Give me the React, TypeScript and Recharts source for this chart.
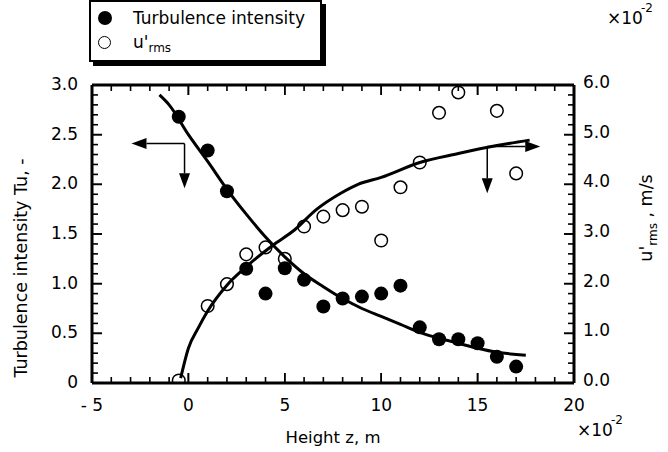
import React from 'react';
import { ComposedChart, Line, Scatter, XAxis, YAxis, ReferenceLine } from 'recharts';

const font = '"DejaVu Sans", sans-serif';

// measured turbulence intensity (filled dots), height in 1e-2 m
const tuHeight = [-0.5, 1, 2, 3, 4, 5, 6, 7, 8, 9, 10, 11, 12, 13, 14, 15, 16, 17];
const tuValue = [2.68, 2.34, 1.93, 1.15, 0.9, 1.155, 1.04, 0.77, 0.85, 0.87, 0.9, 0.98, 0.56, 0.44, 0.44, 0.4, 0.265, 0.165];

// measured u'rms (open dots), 1e-2 m/s
const urmsHeight = [-0.5, 1, 2, 3, 4, 5, 6, 7, 8, 9, 10, 11, 12, 13, 14, 16, 17];
const urmsValue = [0.05, 1.55, 1.99, 2.59, 2.73, 2.5, 3.15, 3.35, 3.48, 3.55, 2.87, 3.94, 4.44, 5.44, 5.85, 5.48, 4.22];

// fitted curves
const tuFitHeight = [-1.5, -1, 0, 1, 2, 3, 4, 5, 6, 7, 8, 9, 10, 11, 12, 13, 14, 15, 16, 17.5];
const tuFitValue = [2.9, 2.8, 2.5, 2.23, 1.95, 1.7, 1.47, 1.27, 1.1, 0.97, 0.85, 0.75, 0.67, 0.59, 0.51, 0.45, 0.4, 0.35, 0.31, 0.28];
const urmsFitHeight = [-0.4, 0, 0.5, 1, 2, 3, 4.4, 5.5, 6.6, 7.9, 8.8, 10, 12, 14, 16, 17.7];
const urmsFitValue = [0.1, 0.7, 1.1, 1.45, 1.97, 2.34, 2.78, 3.08, 3.48, 3.82, 4.0, 4.14, 4.44, 4.62, 4.78, 4.89];

// tick labels
const xMajor = [-5, 0, 5, 10, 15, 20];
const xMajorLabels = ['- 5', '0', '5', '10', '15', '20'];
const leftMajor = [0, 0.5, 1, 1.5, 2, 2.5, 3];
const leftLabels = ['0', '0.5', '1.0', '1.5', '2.0', '2.5', '3.0'];
const rightMajor = [0, 1, 2, 3, 4, 5, 6];
const rightLabels = ['0.0', '1.0', '2.0', '3.0', '4.0', '5.0', '6.0'];

// minor tick positions
const xMinor = Array.from({ length: 24 }, (_, i) => i - 4);
const leftMinor = Array.from({ length: 29 }, (_, i) => (i + 1) / 10);
const rightMinor = Array.from({ length: 29 }, (_, i) => (i + 1) / 5);

// arrow annotations in data units
const arrows = [
  { axis: 'left', from: { x: -0.2, y: 2.41 }, to: { x: -2.95, y: 2.41 } },
  { axis: 'left', from: { x: -0.2, y: 2.41 }, to: { x: -0.2, y: 1.96 } },
  { axis: 'right', from: { x: 15.5, y: 4.76 }, to: { x: 18.25, y: 4.76 } },
  { axis: 'right', from: { x: 15.5, y: 4.76 }, to: { x: 15.5, y: 3.82 } },
];

const zip = (zs: number[], vs: number[]) => zs.map((z, i) => ({ z, v: vs[i] }));
const tuPoints = zip(tuHeight, tuValue);
const urmsPoints = zip(urmsHeight, urmsValue);
const tuFit = zip(tuFitHeight, tuFitValue);
const urmsFit = zip(urmsFitHeight, urmsFitValue);

const findMajor = (list: number[], v: number) => list.findIndex((m) => Math.abs(m - v) < 1e-6);
const isMajor = (list: number[], v: number) => findMajor(list, v) >= 0;

// inward tick marks, drawn from a reference line's end points
const TickMark = (props: any) => {
  const { x1, y1, x2, y2, side, len } = props;
  let d = '';
  if (side === 'x') {
    const top = Math.min(y1, y2);
    const bottom = Math.max(y1, y2);
    d = `M${x1},${bottom}V${bottom - len}M${x1},${top}V${top + len}`;
  } else if (side === 'left') {
    const x = Math.min(x1, x2);
    d = `M${x},${y1}H${x + len}`;
  } else {
    const x = Math.max(x1, x2);
    d = `M${x},${y1}H${x - len}`;
  }
  return <path d={d} stroke="#000" strokeWidth={1.6} fill="none" />;
};

const BottomLabel = (p: any) => {
  const i = findMajor(xMajor, Number(p.payload.value));
  if (i < 0) return <g />;
  return (
    <text x={p.x} y={p.y + 28} textAnchor="middle" fontSize={17} fontFamily={font} fill="#000">
      {xMajorLabels[i]}
    </text>
  );
};

const LeftLabel = (p: any) => {
  const i = findMajor(leftMajor, Number(p.payload.value));
  if (i < 0) return <g />;
  return (
    <text x={p.x - 14} y={p.y + 5} textAnchor="end" fontSize={17} fontFamily={font} fill="#000">
      {leftLabels[i]}
    </text>
  );
};

const RightLabel = (p: any) => {
  const i = findMajor(rightMajor, Number(p.payload.value));
  if (i < 0) return <g />;
  return (
    <text x={p.x + 9} y={p.y + 3} textAnchor="start" fontSize={17} fontFamily={font} fill="#000">
      {rightLabels[i]}
    </text>
  );
};

const Arrow = (p: any) => {
  const { x1, y1, x2, y2 } = p;
  const a = Math.atan2(y2 - y1, x2 - x1);
  const len = 15;
  const w = 5.5;
  const bx = x2 - len * Math.cos(a);
  const by = y2 - len * Math.sin(a);
  const px = -Math.sin(a) * w;
  const py = Math.cos(a) * w;
  return (
    <g>
      <line x1={x1} y1={y1} x2={bx} y2={by} stroke="#000" strokeWidth={1.5} />
      <polygon points={`${x2},${y2} ${bx + px},${by + py} ${bx - px},${by - py}`} fill="#000" />
    </g>
  );
};

const BottomTitle = ({ viewBox }: any) => {
  const { x = 92, y = 383, width = 482 } = viewBox || {};
  return (
    <g fontFamily={font} fill="#000">
      <text x={x + width / 2} y={y + 60} textAnchor="middle" fontSize={16.5}>Height z, m</text>
      <text x={x + width + 3} y={y + 53} fontSize={17}>
        ×10<tspan dx={-2} dy={-12} fontSize={12}>-2</tspan>
      </text>
    </g>
  );
};

const TopTitle = ({ viewBox }: any) => {
  const { x = 92, y = 84, width = 482 } = viewBox || {};
  return (
    <text x={x + width + 33} y={y - 60} fontSize={17} fontFamily={font} fill="#000">
      ×10<tspan dx={-2} dy={-12} fontSize={12}>-2</tspan>
    </text>
  );
};

const LeftTitle = ({ viewBox }: any) => {
  const { x = 0, y = 85 } = viewBox || {};
  return (
    <text transform={`translate(${x + 27},${y + 183}) rotate(-90)`} textAnchor="middle" fontSize={17.5} fontFamily={font} fill="#000">
      Turbulence intensity Tu, -
    </text>
  );
};

const RightTitle = ({ viewBox }: any) => {
  const { x = 574, y = 85 } = viewBox || {};
  return (
    <text transform={`translate(${x + 78},${y + 133}) rotate(-90)`} textAnchor="middle" fontSize={17.5} fontFamily={font} fill="#000">
      u'<tspan dy={5} fontSize={12}>rms</tspan>
      <tspan dy={-5}> ,  m/s</tspan>
    </text>
  );
};

const axisLine = { stroke: '#000', strokeWidth: 3 };
const xTicks = [...xMajor];

export default function App() {
  return (
    <div style={{ position: 'absolute', left: 0, top: 0, width: 668, height: 452, background: '#fff' }}>
      <ComposedChart width={668} height={452} margin={{ top: 84, right: 0, bottom: 0, left: 0 }}>
        <XAxis
          type="number"
          dataKey="z"
          domain={[-5, 20]}
          ticks={xTicks}
          interval={0}
          allowDataOverflow
          height={69}
          tickSize={0}
          tickMargin={0}
          tickLine={false}
          tick={BottomLabel}
          axisLine={axisLine}
          label={{ content: (p: any) => <BottomTitle viewBox={p.viewBox} /> }}
        />
        <XAxis
          xAxisId="top"
          orientation="top"
          type="number"
          dataKey="z"
          domain={[-5, 20]}
          ticks={xTicks}
          interval={0}
          allowDataOverflow
          height={1}
          tickSize={0}
          tickMargin={0}
          tickLine={false}
          tick={false}
          axisLine={axisLine}
          label={{ content: (p: any) => <TopTitle viewBox={p.viewBox} /> }}
        />
        <YAxis
          yAxisId="left"
          type="number"
          domain={[0, 3]}
          ticks={leftMajor}
          interval={0}
          allowDataOverflow
          width={92}
          tickSize={0}
          tickMargin={0}
          tickLine={false}
          tick={LeftLabel}
          axisLine={axisLine}
          label={{ content: (p: any) => <LeftTitle viewBox={p.viewBox} /> }}
        />
        <YAxis
          yAxisId="right"
          orientation="right"
          type="number"
          domain={[0, 6]}
          ticks={rightMajor}
          interval={0}
          allowDataOverflow
          width={94}
          tickSize={0}
          tickMargin={0}
          tickLine={false}
          tick={RightLabel}
          axisLine={axisLine}
          label={{ content: (p: any) => <RightTitle viewBox={p.viewBox} /> }}
        />

        {/* tick marks along the frame */}
        {[...xMinor, ...xMajor].map((v) => (
          <ReferenceLine key={`x${v}`} x={v} yAxisId="left" ifOverflow="visible" shape={<TickMark side="x" len={isMajor(xMajor, v) ? 10 : 6} />} />
        ))}
        {[...leftMinor, ...leftMajor].map((v) => (
          <ReferenceLine key={`l${v}`} y={v} yAxisId="left" ifOverflow="visible" shape={<TickMark side="left" len={isMajor(leftMajor, v) ? 10 : 6} />} />
        ))}
        {[...rightMinor, ...rightMajor].map((v) => (
          <ReferenceLine key={`r${v}`} y={v} yAxisId="right" ifOverflow="visible" shape={<TickMark side="right" len={isMajor(rightMajor, v) ? 10 : 6} />} />
        ))}

        <Scatter
          xAxisId="top"
          yAxisId="left"
          data={tuPoints}
          dataKey="v"
          isAnimationActive={false}
          shape={(p: any) => <circle cx={p.cx} cy={p.cy} r={7} fill="#000" />}
        />
        <Scatter
          yAxisId="right"
          data={urmsPoints}
          dataKey="v"
          isAnimationActive={false}
          shape={(p: any) => <circle cx={p.cx} cy={p.cy} r={6.3} fill="none" stroke="#000" strokeWidth={1.5} />}
        />
        <Line yAxisId="left" data={tuFit} dataKey="v" type="monotone" stroke="#000" strokeWidth={3} dot={false} isAnimationActive={false} />
        <Line yAxisId="right" data={urmsFit} dataKey="v" type="monotone" stroke="#000" strokeWidth={3} dot={false} isAnimationActive={false} />
        {arrows.map((a, i) => (
          <ReferenceLine key={i} yAxisId={a.axis} segment={[a.from, a.to]} ifOverflow="visible" shape={Arrow} />
        ))}
      </ComposedChart>
      <div
        style={{
          position: 'absolute',
          left: 89,
          top: 0,
          width: 233,
          height: 62,
          boxSizing: 'border-box',
          border: '2px solid #000',
          boxShadow: '4px 4px 0 #000',
          background: '#fff',
          fontFamily: font,
          fontSize: 17,
          color: '#000',
        }}
      >
        <div style={{ position: 'absolute', left: 7, top: 9, width: 14, height: 14, borderRadius: '50%', background: '#000' }} />
        <div style={{ position: 'absolute', left: 42, top: 6, lineHeight: '20px', whiteSpace: 'nowrap' }}>Turbulence intensity</div>
        <div
          style={{
            position: 'absolute',
            left: 7,
            top: 34,
            width: 13,
            height: 13,
            boxSizing: 'border-box',
            borderRadius: '50%',
            border: '1.5px solid #000',
          }}
        />
        <div style={{ position: 'absolute', left: 42, top: 30, lineHeight: '20px', whiteSpace: 'nowrap' }}>
          u'<sub style={{ fontSize: 12 }}>rms</sub>
        </div>
      </div>
    </div>
  );
}
